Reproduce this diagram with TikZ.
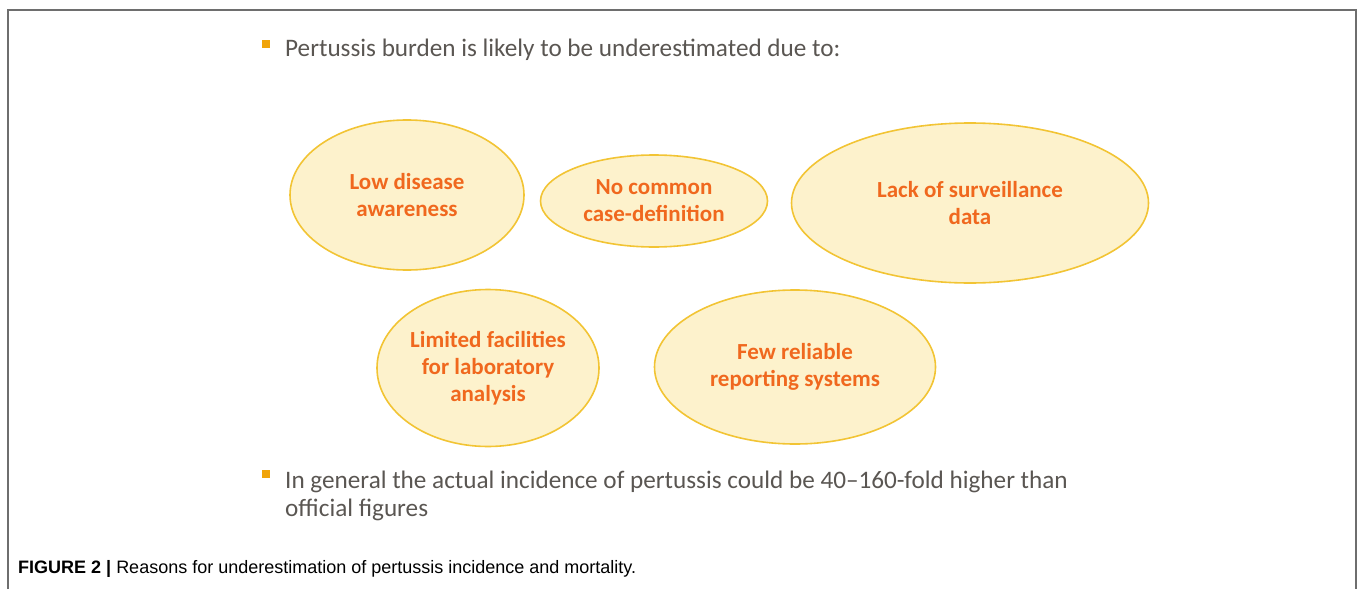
\documentclass[tikz,border=0pt]{standalone}
\usepackage{fontspec}
\setmainfont{Carlito}
\newfontfamily\capfont{Liberation Sans}
\usetikzlibrary{shapes.geometric}
\definecolor{bubblefill}{RGB}{253,242,204}
\definecolor{bubbleline}{RGB}{242,196,52}
\definecolor{bubbletext}{RGB}{240,104,30}
\definecolor{bodytext}{RGB}{90,86,82}
\definecolor{bulletcol}{RGB}{240,164,10}
\definecolor{framecol}{RGB}{110,110,110}
\tikzset{
  bubble/.style={ellipse, draw=bubbleline, fill=bubblefill, line width=1.6pt, inner sep=0pt,
    text=bubbletext, font=\fontsize{23}{27}\selectfont\bfseries, align=center},
  bodyline/.style={anchor=base west, inner sep=0pt, text=bodytext, font=\fontsize{25.2}{28}\selectfont},
  bulletsq/.style={fill=bulletcol, minimum size=8pt, inner sep=0pt},
}
\begin{document}
\begin{tikzpicture}[x=1pt,y=-1pt]
\useasboundingbox (0,0) rectangle (1360,589);
\draw[framecol, line width=1.5pt] (8,589) -- (8,10) -- (1356,10) -- (1356,589);
\node[bulletsq] (b1) at (266,44) {};
\node[bodyline] (t1) at (285,56) {Pertussis burden is likely to be underestimated due to:};
\node[bubble, minimum width=234pt, minimum height=150pt] (e1) at (407,195) {Low disease\\awareness};
\node[bubble, minimum width=227pt, minimum height=92pt] (e2) at (654,201) {No common\\case-definition};
\node[bubble, minimum width=357pt, minimum height=160pt] (e3) at (970,203) {Lack of surveillance\\data};
\node[bubble, minimum width=222pt, minimum height=157pt] (e4) at (488,368) {Limited facilities\\for laboratory\\analysis};
\node[bubble, minimum width=281pt, minimum height=154pt] (e5) at (795,367) {Few reliable\\reporting systems};
\node[bulletsq] (b2) at (266,474) {};
\node[bodyline] (t2) at (285,488) {In general the actual incidence of pertussis could be 40--160-fold higher than};
\node[bodyline] (t3) at (285,516) {official figures};
\node[anchor=base west, inner sep=0pt, font=\capfont\fontsize{18}{20}\selectfont] (cap) at (18,573) {\textbf{FIGURE 2 |} Reasons for underestimation of pertussis incidence and mortality.};
\end{tikzpicture}
\end{document}
